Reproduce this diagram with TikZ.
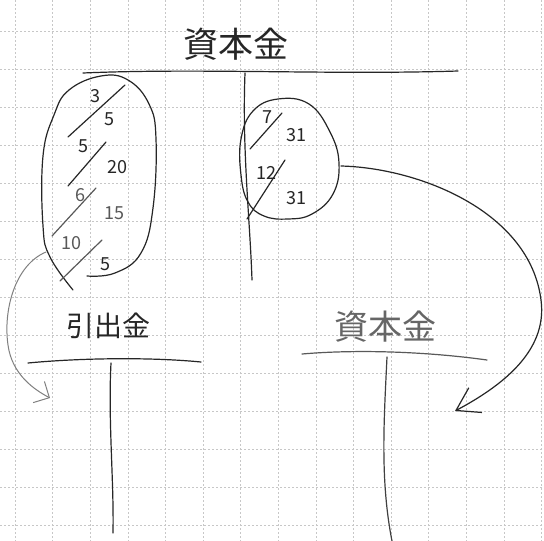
\documentclass[tikz,border=0pt]{standalone}
\usepackage{fontspec}
\newfontfamily\jpfont{Noto Sans CJK JP}
\usetikzlibrary{arrows.meta}
\begin{document}
\begin{tikzpicture}[x=1pt,y=-1pt,
  ink/.style={line width=1.2pt, draw=black!85, line cap=round, line join=round},
  inkgray/.style={line width=1.2pt, draw=black!65, line cap=round, line join=round},
  gridline/.style={draw=black!22, line width=0.5pt, dash pattern=on 1.5pt off 2.5pt},
  title/.style={font=\jpfont\fontsize{35}{35}\selectfont, text=black!85, inner sep=0pt},
  titlegray/.style={font=\jpfont\fontsize{34}{34}\selectfont, text=black!60, inner sep=0pt},
  num/.style={font=\jpfont\fontsize{18}{18}\selectfont, text=black!85, inner sep=0pt},
  numgray/.style={font=\jpfont\fontsize{18}{18}\selectfont, text=black!65, inner sep=0pt},
  bigarrow/.style={ink, -{Straight Barb[length=22pt,width=28pt,line width=1.2pt]}},
  smallarrow/.style={line width=1pt, draw=black!50, line cap=round, -{Straight Barb[length=12pt,width=24pt,line width=1pt]}}
]
\useasboundingbox (0,0) rectangle (544,541);
\fill[white] (0,0) rectangle (544,541);
% grid
\foreach \i in {0,...,14} {\draw[gridline] (15+37.6*\i,0) -- (15+37.6*\i,541);}
\foreach \j in {0,...,13} {\draw[gridline] (0,31+38*\j) -- (544,31+38*\j);}

% ---- top account 資本金
\node[title] (t1) at (236,44) {資本金};
\coordinate (t1l) at (83,73);
\coordinate (t1r) at (458,71);
\draw[ink] (t1l) .. controls (200,68) and (330,75) .. (t1r);
\coordinate (t1top) at (245,73);
\coordinate (t1bot) at (252,280);
\draw[ink] (t1top) .. controls (242,150) and (250,220) .. (t1bot);

% left ellipse
\draw[ink] plot[smooth, tension=0.7] coordinates {(87,276) (115,273) (141,253) (153,208) (156,139) (149,104) (128,80) (101,76) (69,90) (54,115) (43,156) (43,226) (50,257) (73,290)};
\coordinate (le) at (46,252);

% dates left
\node[num] (a1) at (95,96) {3};
\draw[ink] (68,137) -- (125,85);
\node[num] (a2) at (109,119) {5};
\node[num] (b1) at (83,146) {5};
\draw[ink] (68,186) -- (106,142);
\node[num] (b2) at (117,167) {20};
\node[numgray] (c1) at (80,195) {6};
\draw[inkgray] (52,236) -- (96,188);
\node[numgray] (c2) at (114,213) {15};
\node[numgray] (d1) at (71,243) {10};
\draw[inkgray] (60,281) -- (102,240);
\node[num] (d2) at (105,264) {5};

% right ellipse
\draw[ink] plot[smooth cycle, tension=0.7] coordinates {(278,99) (309,104) (330,132) (339,163) (333,194) (312,214) (288,219) (264,216) (248,202) (241,175) (241,139) (253,111)};
\coordinate (re) at (341,166);
\node[num] (e1) at (267,117) {7};
\draw[ink] (250,149) -- (282,113);
\node[num] (e2) at (296,135) {31};
\node[num] (f1) at (266,173) {12};
\draw[ink] (247,219) -- (285,160);
\node[num] (f2) at (296,198) {31};

% ---- bottom left 引出金
\node[title, font=\jpfont\fontsize{28}{28}\selectfont] (t2) at (108,326) {引出金};
\coordinate (t2l) at (28,363);
\coordinate (t2r) at (201,362);
\draw[ink] (t2l) .. controls (80,358) and (150,357) .. (t2r);
\coordinate (t2top) at (111,363);
\coordinate (t2bot) at (113,533);
\draw[ink] (t2top) .. controls (108,420) and (114,480) .. (t2bot);
\coordinate (la) at (50,398);

% ---- bottom right 資本金
\node[titlegray] (t3) at (385,327) {資本金};
\coordinate (t3l) at (302,354);
\coordinate (t3r) at (487,360);
\draw[inkgray] (t3l) .. controls (360,349) and (430,352) .. (t3r);
\coordinate (t3top) at (387,357);
\coordinate (t3bot) at (392,541);
\draw[ink, draw=black!75] (t3top) .. controls (384,420) and (380,480) .. (t3bot);
\coordinate (ra) at (455,411);

% arrows
\draw[bigarrow] (re) .. controls (420,168) and (530,212) .. (541,300) .. controls (548,352) and (500,387) .. (ra);
\draw[smallarrow] (le) .. controls (15,265) and (3,310) .. (8,345) .. controls (12,375) and (35,390) .. (la);
\end{tikzpicture}
\end{document}
